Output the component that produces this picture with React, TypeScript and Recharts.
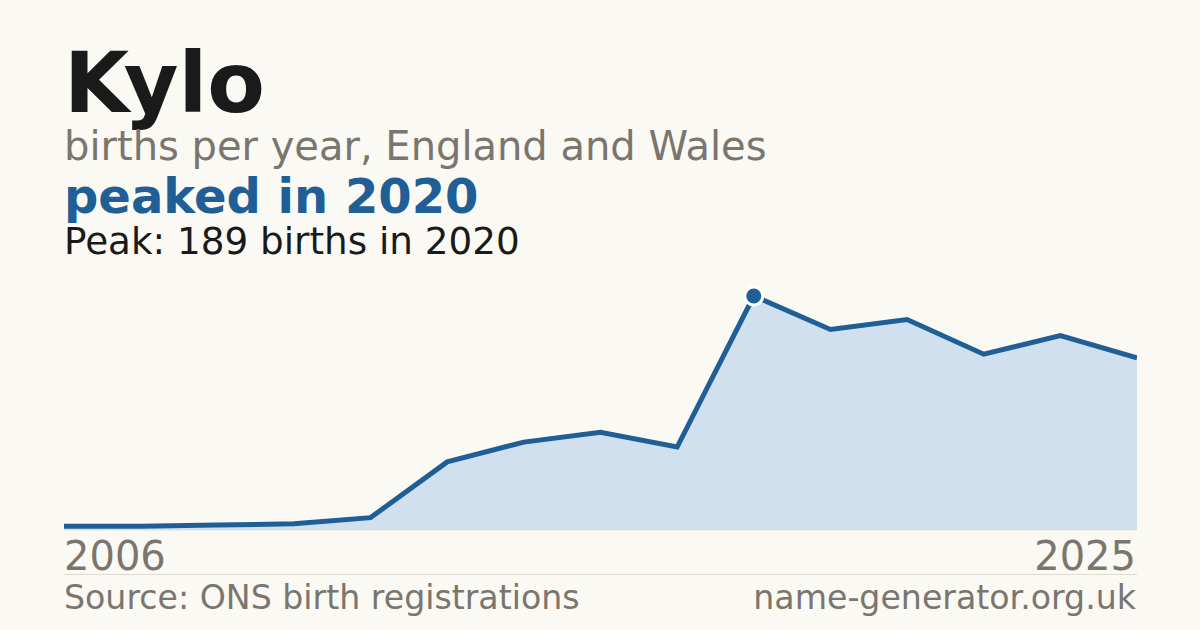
import React from "react";
import { AreaChart, Area, XAxis, YAxis, ReferenceDot } from "recharts";

// births per year for "Kylo" (years with data only)
const years = [2006, 2012, 2013, 2014, 2015, 2016, 2017, 2018, 2019, 2020, 2021, 2022, 2023, 2024, 2025];
const births = [3, 3, 4, 5, 10, 55, 71, 79, 67, 189, 162, 170, 142, 157, 139];
const axisTicks = [2006, 2025];
const peakYear = 2020;
const peakValue = 189;

const BG = "#faf9f4";
const BLUE = "#1f5f96";
const GREY = "#7a766e";
const INK = "#1a1a1a";

const data = years.map((y, i) => ({ year: y, births: births[i] }));

const YearTick = (props: any) => {
  const { x, y, payload } = props;
  const last = payload.value === axisTicks[axisTicks.length - 1];
  return (
    <text
      x={last ? x - 1 : x}
      y={y + 40}
      textAnchor={last ? "end" : "start"}
      fill={GREY}
      fontSize={40}
      fontFamily="DejaVu Sans"
    >
      {payload.value}
    </text>
  );
};

export default function App() {
  return (
    <div
      style={{
        position: "fixed",
        left: 0,
        top: 0,
        width: 1200,
        height: 630,
        background: BG,
        overflow: "hidden",
      }}
    >
      <svg
        width={1200}
        height={630}
        style={{ position: "absolute", left: 0, top: 0 }}
        fontFamily="DejaVu Sans"
      >
        <text x={64} y={112} fontSize={84} fontWeight="bold" fill={INK}>
          Kylo
        </text>
        <text x={64} y={160} fontSize={40} fill={GREY}>
          births per year, England and Wales
        </text>
        <text x={64} y={213} fontSize={48} fontWeight="bold" fill={BLUE}>
          peaked in 2020
        </text>
        <text x={64} y={254} fontSize={37.3} fill={INK}>
          Peak: 189 births in 2020
        </text>
        <line x1={64} x2={1137} y1={574.5} y2={574.5} stroke="#dedbd3" strokeWidth={1} />
        <text x={64} y={609} fontSize={33.2} fill={GREY}>
          Source: ONS birth registrations
        </text>
        <text x={1136} y={609} fontSize={33.2} fill={GREY} textAnchor="end">
          name-generator.org.uk
        </text>
      </svg>
      <div style={{ position: "absolute", left: 64, top: 276 }}>
        <AreaChart
          width={1073}
          height={304}
          data={data}
          margin={{ top: 20, right: 0, left: 0, bottom: 0 }}
        >
          <XAxis
            dataKey="year"
            ticks={axisTicks}
            interval={0}
            height={50}
            tickSize={0}
            tickMargin={0}
            axisLine={{ stroke: "#e3e0d8", strokeWidth: 1 }}
            tickLine={false}
            tick={<YearTick />}
          />
          <YAxis hide domain={[0, peakValue]} />
          <Area
            type="linear"
            dataKey="births"
            stroke={BLUE}
            strokeWidth={5}
            fill="#d0e0ef"
            fillOpacity={1}
            dot={false}
            activeDot={false}
            isAnimationActive={false}
          />
          <ReferenceDot
            x={peakYear}
            y={peakValue}
            r={9}
            fill={BLUE}
            stroke="#ffffff"
            strokeWidth={3}
          />
        </AreaChart>
      </div>
    </div>
  );
}
